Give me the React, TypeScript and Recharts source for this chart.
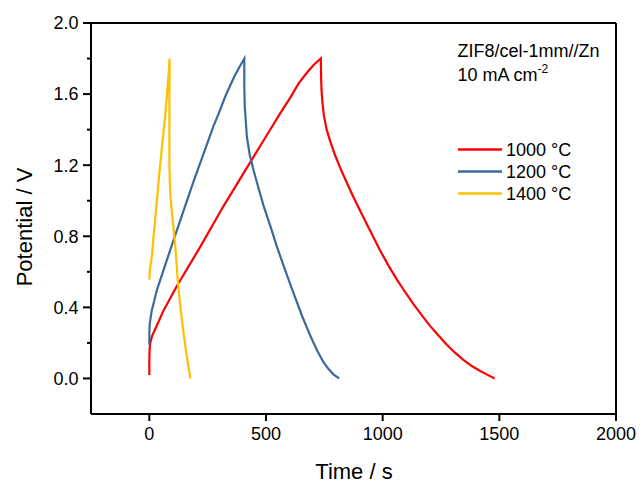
import React from 'react';
import { LineChart, Line, XAxis, YAxis, ReferenceLine, Customized } from 'recharts';

const FONT = '"Liberation Sans", Arial, sans-serif';

// Axis ticks
const xMajorTicks = [0, 500, 1000, 1500, 2000];
const xMinorTicks = [250, 750, 1250, 1750];
const yTicks = [0, 0.2, 0.4, 0.6, 0.8, 1.0, 1.2, 1.4, 1.6, 1.8, 2.0];

// Series: 1000 °C
const t1000 = [0, 0, 1, 4, 12, 26, 60, 118, 218, 318, 404, 504, 560, 604, 640, 675, 705, 735, 736, 738, 742, 748, 760, 775, 795, 818, 845, 875, 905, 935, 962, 989, 1025, 1061, 1097, 1132, 1168, 1203, 1240, 1275, 1310, 1346, 1382, 1418, 1450, 1480];
const v1000 = [0.02, 0.1, 0.16, 0.2, 0.24, 0.28, 0.38, 0.52, 0.74, 0.97, 1.155, 1.37, 1.49, 1.58, 1.66, 1.72, 1.765, 1.8, 1.7, 1.62, 1.55, 1.48, 1.4, 1.335, 1.26, 1.185, 1.105, 1.02, 0.94, 0.86, 0.79, 0.72, 0.635, 0.556, 0.485, 0.418, 0.355, 0.296, 0.24, 0.19, 0.145, 0.105, 0.07, 0.042, 0.02, 0.0];

// Series: 1200 °C
const t1200 = [0, 0, 2, 10, 33, 104, 190, 275, 300, 325, 347, 365, 385, 407, 407, 409, 418, 430, 447, 468, 490, 518, 547, 582, 618, 655, 690, 720, 747, 770, 790, 814];
const v1200 = [0.19, 0.26, 0.31, 0.38, 0.5, 0.78, 1.11, 1.42, 1.5, 1.585, 1.65, 1.7, 1.75, 1.8, 1.65, 1.53, 1.36, 1.26, 1.17, 1.07, 0.97, 0.86, 0.74, 0.61, 0.48, 0.35, 0.24, 0.155, 0.09, 0.05, 0.022, 0.0];

// Series: 1400 °C
const t1400 = [0, 3, 11, 21, 26, 47, 69, 83, 87, 86, 86, 88, 91, 97, 104, 111, 117, 123, 135, 147, 161, 176];
const v1400 = [0.556, 0.62, 0.69, 0.84, 0.91, 1.21, 1.49, 1.72, 1.8, 1.6, 1.21, 1.1, 1.02, 0.93, 0.84, 0.75, 0.64, 0.53, 0.38, 0.25, 0.12, 0.0];

const seriesNames = ['1000 °C', '1200 °C', '1400 °C'];
const seriesColors = ['#FF0000', '#3A6A9C', '#FFC000'];

const toPoints = (ts: number[], vs: number[]) => ts.map((t, i) => ({ t, v: vs[i] }));
const seriesData = [toPoints(t1000, v1000), toPoints(t1200, v1200), toPoints(t1400, v1400)];

const renderXLabel = (props: any) => {
  const { x, y, payload } = props;
  return (
    <text key={'xl' + payload.value} x={x} y={y + 18.5} textAnchor="middle" fontSize={18} fill="#000" fontFamily={FONT}>
      {payload.value}
    </text>
  );
};

const renderYTick = (props: any) => {
  const { x, y, payload } = props;
  const v = payload.value;
  const major = Math.round(v * 10) % 4 === 0;
  const len = major ? 8 : 4;
  return (
    <g key={'yt' + v}>
      <rect x={x - len} y={y - 1} width={len} height={2} fill="#000" />
      {major && (
        <text x={x - 12.5} y={y + 6.4} textAnchor="end" fontSize={18} fill="#000" fontFamily={FONT}>
          {v.toFixed(1)}
        </text>
      )}
    </g>
  );
};

const Decorations = () => (
  <g fontFamily={FONT} fill="#000">
    <text x={354} y={479} textAnchor="middle" fontSize={22}>Time / s</text>
    <text x={32} y={227} textAnchor="middle" fontSize={22} transform="rotate(-90 32 227)">Potential / V</text>
    <text x={457.5} y={56.7} fontSize={18}>ZIF8/cel-1mm//Zn</text>
    <text x={457.5} y={80.7} fontSize={18}>
      10 mA cm<tspan fontSize={12} dy={-8}>-2</tspan>
    </text>
    {seriesNames.map((n, i) => (
      <g key={n}>
        <line x1={458} x2={502} y1={149.5 + i * 22} y2={149.5 + i * 22} stroke={seriesColors[i]} strokeWidth={2.5} />
        <text x={506} y={156 + i * 22} fontSize={18}>{n}</text>
      </g>
    ))}
  </g>
);

export default function App() {
  return (
    <div style={{ position: 'absolute', left: 0, top: 0, width: 642, height: 485, background: '#fff' }}>
      <LineChart width={642} height={485} margin={{ top: 23, right: 26, bottom: 0, left: 0 }}>
        <XAxis
          xAxisId="minor"
          type="number"
          domain={[-250, 2000]}
          ticks={xMinorTicks}
          allowDataOverflow
          axisLine={false}
          tickLine={{ stroke: '#000', strokeWidth: 2 }}
          tickSize={4}
          tick={false}
          height={0}
          interval={0}
        />
        <XAxis
          type="number"
          dataKey="t"
          domain={[-250, 2000]}
          ticks={xMajorTicks}
          allowDataOverflow
          axisLine={{ stroke: '#000', strokeWidth: 2 }}
          tickLine={{ stroke: '#000', strokeWidth: 2 }}
          tickSize={7}
          tickMargin={0}
          height={71}
          tick={renderXLabel}
          interval={0}
        />
        <YAxis
          type="number"
          dataKey="v"
          domain={[-0.2, 2.0]}
          ticks={yTicks}
          allowDataOverflow
          axisLine={{ stroke: '#000', strokeWidth: 2 }}
          tickLine={false}
          tickSize={0}
          tickMargin={0}
          width={91}
          tick={renderYTick}
          interval={0}
        />
        <ReferenceLine y={2.0} stroke="#000" strokeWidth={2} />
        <ReferenceLine x={2000} stroke="#000" strokeWidth={2} />
        {seriesData.map((d, i) => (
          <Line
            key={seriesNames[i]}
            data={d}
            dataKey="v"
            name={seriesNames[i]}
            type="linear"
            stroke={seriesColors[i]}
            strokeWidth={2.2}
            dot={false}
            activeDot={false}
            isAnimationActive={false}
          />
        ))}
        <Customized component={Decorations} />
      </LineChart>
    </div>
  );
}
